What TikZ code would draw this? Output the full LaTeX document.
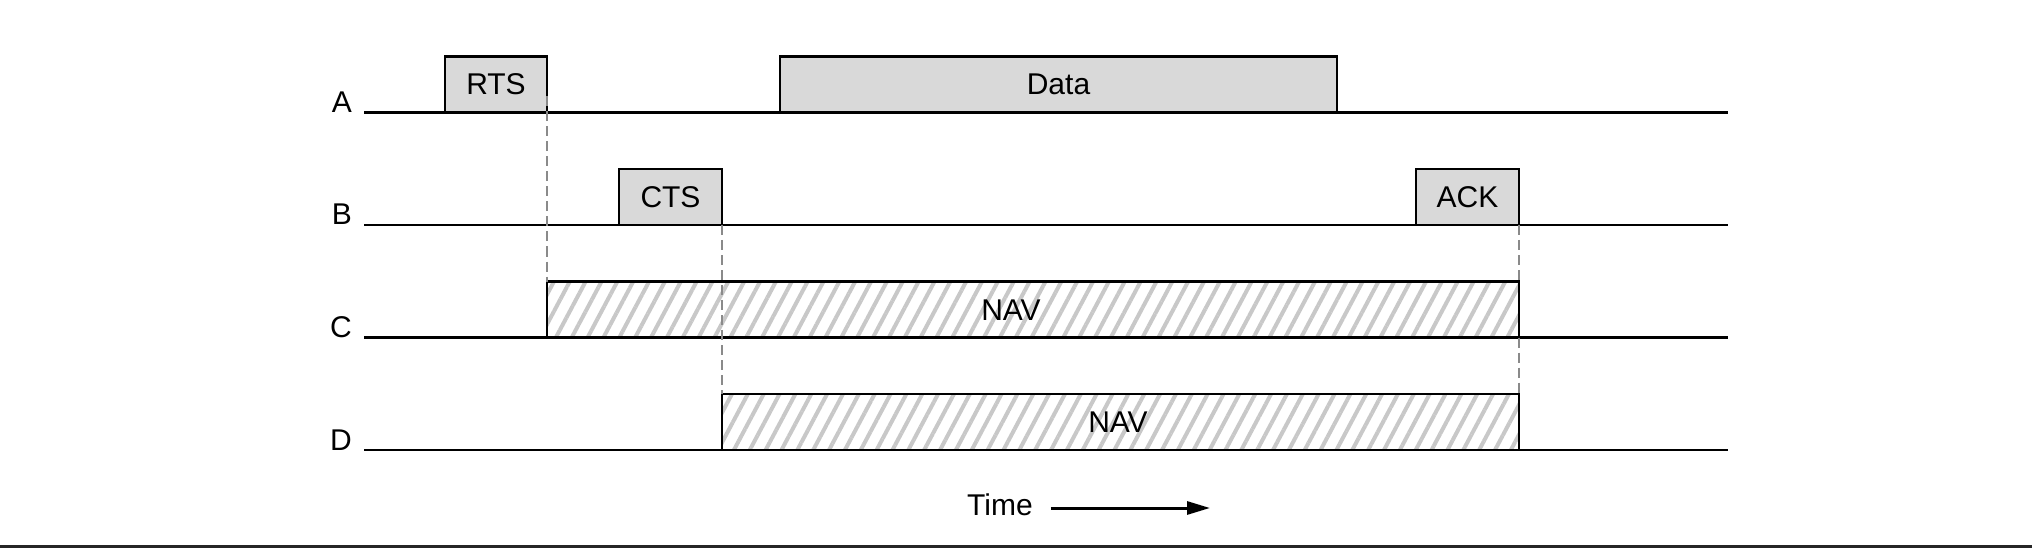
\documentclass[tikz,border=0pt]{standalone}
\usepackage{fontspec}
\setmainfont{Liberation Sans}
\usetikzlibrary{arrows.meta,patterns.meta}
\definecolor{boxgray}{HTML}{D9D9D9}
\definecolor{hatchgray}{HTML}{C8C8C8}
\definecolor{dashgray}{HTML}{8A8A8A}
\begin{document}
\begin{tikzpicture}[x=1pt, y=-1pt,
  txt/.style={inner sep=0pt, font=\fontsize{30}{36}\selectfont},
  frame/.style={draw, line width=2.5pt, fill=boxgray, outer sep=0pt, inner sep=0pt,
    anchor=south west, minimum height=56pt, font=\fontsize{30}{36}\selectfont},
  nav/.style={draw, line width=2.5pt, outer sep=0pt, anchor=south west, minimum height=56pt,
    pattern={Lines[angle=62,distance=14pt,line width=4pt]}, pattern color=hatchgray},
  guard/.style={dashgray, line width=2pt, dash pattern=on 10pt off 5pt}]
\useasboundingbox (0,0) rectangle (2032,548);
% time lines of the four stations
\foreach \y/\n in {112.5/A, 225/B, 337.5/C, 450/D}
  {\node[txt, anchor=base east] (lab\n) at (352,\y) {\n};
   \draw[line width=2.7pt] (364,\y) -- (1728,\y);};
% frames
\node[frame, minimum width=102pt] (rts) at (445,112.5) {RTS};
\node[frame, minimum width=557pt] (data) at (780,112.5) {Data};
\node[frame, minimum width=103pt] (cts) at (619,225) {CTS};
\node[frame, minimum width=103pt] (ack) at (1416,225) {ACK};
% virtual carrier sense
\node[nav, minimum width=972pt] (navc) at (547,337.5) {};
\node[nav, minimum width=797pt] (navd) at (722,450) {};
\node[txt] (navctxt) at (1011,310) {NAV};
\node[txt] (navdtxt) at (1118,422) {NAV};
\draw[guard] ([yshift=16pt]rts.south east) -- (navc.north west);
\draw[guard] (cts.south east) -- (navd.north west);
\draw[guard] (ack.south east) -- (navc.north east);
\draw[guard] (navc.south east) -- (navd.north east);
% time axis
\node[txt, anchor=base] (time) at (1000,515) {Time};
\coordinate (tend) at (1210,508);
\draw[line width=3pt, -{Triangle[length=23pt,width=13pt]}] ([xshift=18pt,yshift=7pt]time.base east) -- (tend);
\draw[line width=3pt, black!85] (0,546.5) -- (2032,546.5);
\end{tikzpicture}
\end{document}
